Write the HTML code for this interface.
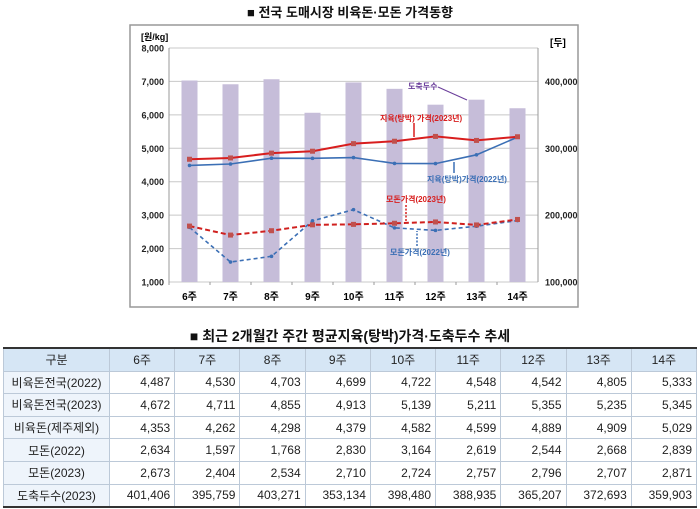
<!DOCTYPE html>
<html><head><meta charset="utf-8">
<style>
body{margin:0;width:700px;height:509px;background:#fff;font-family:"Liberation Sans","Noto Sans CJK KR",sans-serif;overflow:hidden;position:relative}
svg{position:absolute;left:0;top:0}
.ttl{position:absolute;left:0;width:700px;text-align:center;font-weight:bold;font-size:13px;color:#111}
table{position:absolute;left:3px;top:347px;width:694px;border-collapse:collapse;font-size:12px;font-family:"Liberation Sans Narrow","Liberation Sans","Noto Sans CJK KR",sans-serif}
td,th{border:1px solid #bcc9d8;height:21.6px;padding:0 4px;text-align:right;font-weight:normal;color:#222}
th{background:#d6e6f5;text-align:center}
td:first-child{background:#eef4fb;text-align:center}
tr:first-child th{border-top:2px solid #333}
tr:last-child td{border-bottom:2px solid #333}
</style></head><body>
<div class="ttl" style="top:2px">■ 전국 도매시장 비육돈·모돈 가격동향</div>
<svg id="c" width="700" height="320"></svg>
<div class="ttl" style="top:326px;font-size:14px">■ 최근 2개월간 주간 평균지육(탕박)가격·도축두수 추세</div>
<table>
<tr><th style="width:97px">구분</th><th>6주</th><th>7주</th><th>8주</th><th>9주</th><th>10주</th><th>11주</th><th>12주</th><th>13주</th><th>14주</th></tr>
<tr><td>비육돈전국(2022)</td><td>4,487</td><td>4,530</td><td>4,703</td><td>4,699</td><td>4,722</td><td>4,548</td><td>4,542</td><td>4,805</td><td>5,333</td></tr>
<tr><td>비육돈전국(2023)</td><td>4,672</td><td>4,711</td><td>4,855</td><td>4,913</td><td>5,139</td><td>5,211</td><td>5,355</td><td>5,235</td><td>5,345</td></tr>
<tr><td>비육돈(제주제외)</td><td>4,353</td><td>4,262</td><td>4,298</td><td>4,379</td><td>4,582</td><td>4,599</td><td>4,889</td><td>4,909</td><td>5,029</td></tr>
<tr><td>모돈(2022)</td><td>2,634</td><td>1,597</td><td>1,768</td><td>2,830</td><td>3,164</td><td>2,619</td><td>2,544</td><td>2,668</td><td>2,839</td></tr>
<tr><td>모돈(2023)</td><td>2,673</td><td>2,404</td><td>2,534</td><td>2,710</td><td>2,724</td><td>2,757</td><td>2,796</td><td>2,707</td><td>2,871</td></tr>
<tr><td>도축두수(2023)</td><td>401,406</td><td>395,759</td><td>403,271</td><td>353,134</td><td>398,480</td><td>388,935</td><td>365,207</td><td>372,693</td><td>359,903</td></tr>
</table>
<script>
const weeks=["6주","7주","8주","9주","10주","11주","12주","13주","14주"];
const pork2022=[4487,4530,4703,4699,4722,4548,4542,4805,5333];
const pork2023=[4672,4711,4855,4913,5139,5211,5355,5235,5345];
const sow2022=[2634,1597,1768,2830,3164,2619,2544,2668,2839];
const sow2023=[2673,2404,2534,2710,2724,2757,2796,2707,2871];
const slaughter=[401406,395759,403271,353134,398480,388935,365207,372693,359903];
const leftTicks=[1000,2000,3000,4000,5000,6000,7000,8000];
const rightTicks=[100000,200000,300000,400000];
const svg=document.getElementById('c');const NS='http://www.w3.org/2000/svg';
const X0=169,X1=538,Y0=282,Y1=48;
const xs=i=>X0+(X1-X0)/weeks.length*(i+0.5);
const yl=v=>Y0-(v-1000)/7000*(Y0-Y1);
const yr=v=>yl(1000+(v-100000)/50);
function el(t,a,txt){const e=document.createElementNS(NS,t);for(const k in a)e.setAttribute(k,a[k]);if(txt!=null)e.textContent=txt;svg.appendChild(e);return e;}
let f=el('rect',{x:130,y:25,width:448,height:282,fill:'none',stroke:'#999','stroke-width':1.5});

leftTicks.forEach(v=>{let g=el('line',{x1:X0,x2:X1,y1:yl(v),y2:yl(v),stroke:'#c8c8c8'});
let t=el('text',{x:164,y:yl(v)+3.5,'text-anchor':'end','font-size':9,'font-weight':'bold',fill:'#222'},v.toLocaleString('en-US'));});
rightTicks.forEach(v=>{let t=el('text',{x:545,y:yr(v)+3.5,'font-size':9,'font-weight':'bold',fill:'#222'},v.toLocaleString('en-US'));});
el('line',{x1:X0,x2:X0,y1:Y1,y2:Y0,stroke:'#999'});el('line',{x1:X1,x2:X1,y1:Y1,y2:Y0,stroke:'#999'});
let u1=el('text',{x:141,y:40,'font-size':9,'font-weight':'bold'},'[원/kg]');
let u2=el('text',{x:550,y:46,'font-size':10,'font-weight':'bold'},'[두]');
slaughter.forEach((v,i)=>{let b=el('rect',{x:xs(i)-8,y:yr(v),width:16,height:Y0-yr(v),fill:'#c6bdd9'});});
weeks.forEach((w,i)=>{let t=el('text',{x:xs(i),y:300,'text-anchor':'middle','font-size':10,'font-weight':'bold'},w);
el('line',{x1:X0+(X1-X0)/9*i,x2:X0+(X1-X0)/9*i,y1:Y0,y2:Y0+3,stroke:'#999'});});
function series(d,col,dash,name,sq){const p=d.map((v,i)=>xs(i)+','+yl(v)).join(' ');
let l=el('polyline',{points:p,fill:'none',stroke:col,'stroke-width':sq?2:1.6,'stroke-dasharray':dash});
d.forEach((v,i)=>{let m=sq?el('rect',{x:xs(i)-2.5,y:yl(v)-2.5,width:5,height:5,fill:'#c0504d'}):el('circle',{cx:xs(i),cy:yl(v),r:1.8,fill:col});});}
series(sow2022,'#3b6fb5','4,3','line-sow-2022',false);
series(sow2023,'#d0201e','5,3','line-sow-2023',true);
series(pork2022,'#3b6fb5','','line-pork-2022',false);
series(pork2023,'#d81e1e','','line-pork-2023',true);
function ann(x,y,txt,col,name){let t=el('text',{x:x,y:y,'font-size':8,'font-weight':'bold',fill:col},txt);}
ann(408,89,'도축두수','#6a3d9a','label-slaughter');el('line',{x1:438,y1:87,x2:467,y2:100,stroke:'#6a3d9a'});
ann(380,121,'지육(탕박) 가격(2023년)','#d81e1e','label-pork-2023');el('line',{x1:414,y1:123,x2:414,y2:137,stroke:'#d81e1e','stroke-width':1.5});
ann(427,182,'지육(탕박)가격(2022년)','#3b6fb5','label-pork-2022');el('line',{x1:454,y1:173,x2:454,y2:162,stroke:'#3b6fb5','stroke-width':1.5});
ann(386,202,'모돈가격(2023년)','#d81e1e','label-sow-2023');el('line',{x1:406,y1:205,x2:406,y2:222,stroke:'#d81e1e','stroke-dasharray':'2,1.5','stroke-width':1.5});
ann(390,255,'모돈가격(2022년)','#3b6fb5','label-sow-2022');el('line',{x1:417,y1:246,x2:417,y2:231,stroke:'#3b6fb5','stroke-dasharray':'2,1.5','stroke-width':1.5});
</script>
</body></html>
